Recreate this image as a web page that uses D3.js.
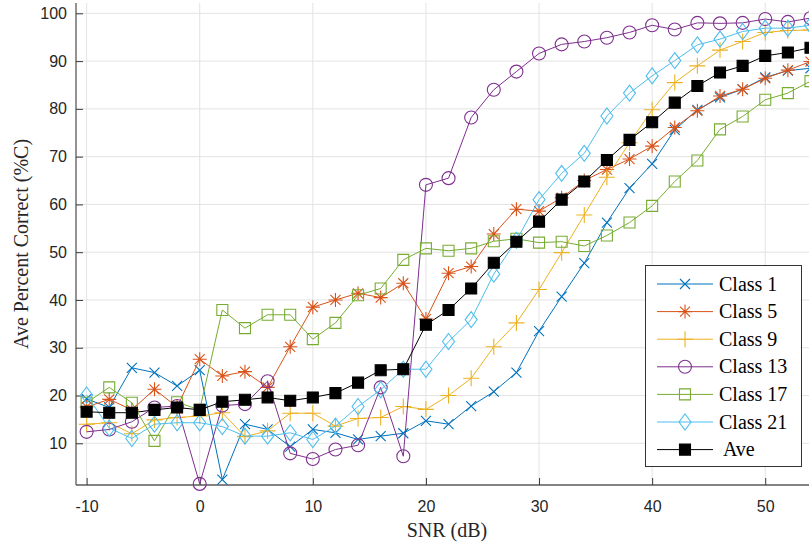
<!DOCTYPE html>
<html>
<head>
<meta charset="utf-8">
<script src="https://cdn.jsdelivr.net/npm/d3@7"></script>
<style>
  body { margin: 0; background: #fff; }
  svg { display: block; }
</style>
</head>
<body>
<svg id="chart" width="809" height="544"></svg>
<script>
// SNR values (dB)
const snr = [-10, -8, -6, -4, -2, 0, 2, 4, 6, 8, 10, 12, 14, 16, 18, 20, 22, 24, 26, 28, 30,
  32, 34, 36, 38, 40, 42, 44, 46, 48, 50, 52, 54];

const class1 = [19.3, 17.5, 25.8, 24.8, 22.0, 25.3, 2.4, 14.0, 12.9, 9.3, 12.9, 12.2, 10.8, 11.5, 12.1, 14.7, 14.0,
  17.8, 20.8, 24.8, 33.5, 40.7, 47.7, 56.2, 63.4, 68.5, 75.6, 79.8, 82.4, 84.1, 86.6, 88.0, 88.5];
const class5 = [17.6, 19.2, 17.0, 21.3, 17.6, 27.6, 24.1, 25.0, 21.7, 30.2, 38.5, 40.0, 41.4, 40.5, 43.5, 36.0, 45.6,
  47.0, 53.8, 59.0, 58.6, 61.4, 65.0, 67.3, 69.5, 72.2, 76.1, 79.6, 82.7, 84.1, 86.4, 88.1, 89.9];
const class9 = [14.0, 14.3, 12.0, 14.9, 15.4, 15.7, 16.4, 11.4, 12.6, 16.3, 16.3, 13.6, 15.2, 15.4, 17.7, 17.1, 20.0,
  23.6, 30.2, 35.2, 42.2, 49.9, 57.8, 65.7, 72.9, 79.8, 85.5, 89.0, 92.3, 94.1, 96.0, 96.4, 96.5];
const class13 = [12.4, 12.9, 14.5, 17.5, 17.8, 1.5, 17.9, 18.2, 23.0, 7.9, 6.7, 8.7, 9.6, 21.7, 7.3, 64.1, 65.5,
  78.2, 84.0, 87.8, 91.6, 93.5, 94.1, 94.9, 96.0, 97.5, 96.6, 98.0, 97.9, 98.0, 98.8, 98.2, 99.0];
const class17 = [18.5, 21.7, 18.5, 10.5, 18.6, 17.0, 37.9, 34.1, 36.9, 36.9, 31.8, 35.2, 41.0, 42.4, 48.4, 50.8, 50.3,
  50.8, 52.3, 52.8, 52.0, 52.2, 51.3, 53.5, 56.2, 59.7, 64.8, 69.2, 75.7, 78.4, 81.9, 83.3, 85.8];
const class21 = [20.1, 13.2, 11.0, 14.0, 14.3, 14.3, 13.5, 11.5, 11.5, 12.2, 10.8, 13.6, 17.7, 21.2, 25.5, 25.5, 31.3,
  35.9, 45.4, 52.5, 61.0, 66.5, 70.7, 78.5, 83.3, 86.9, 90.1, 93.4, 94.6, 96.2, 96.9, 96.9, 97.5];
const ave = [16.6, 16.4, 16.4, 17.0, 17.5, 17.0, 18.7, 19.1, 19.6, 18.9, 19.6, 20.5, 22.7, 25.3, 25.5, 34.8, 37.9,
  42.4, 47.8, 52.2, 56.4, 61.0, 64.8, 69.3, 73.5, 77.2, 81.3, 84.8, 87.6, 89.0, 91.1, 91.8, 92.8];

const seriesNames = ["Class 1", "Class 5", "Class 9", "Class 13", "Class 17", "Class 21", " Ave"];
const seriesValues = [class1, class5, class9, class13, class17, class21, ave];
const seriesColors = ["#0072BD", "#D95319", "#EDB120", "#7E2F8E", "#77AC30", "#4DBEEE", "#000000"];
const seriesMarkers = ["x", "star", "plus", "circle", "square", "diamond", "filled"];

const xTicks = [-10, 0, 10, 20, 30, 40, 50];
const yTicks = [10, 20, 30, 40, 50, 60, 70, 80, 90, 100];

const svg = d3.select("#chart");
const plot = { left: 76, right: 809, top: 3, bottom: 485 };

const x = d3.scaleLinear().domain([-11, 55]).range([75.3, 821.8]);
const y = d3.scaleLinear().domain([1.27, 102.16]).range([plot.bottom, plot.top]);

// grid
svg.append("g").selectAll("line.vg")
  .data(xTicks)
  .join("line")
  .attr("x1", d => x(d)).attr("x2", d => x(d))
  .attr("y1", plot.top).attr("y2", plot.bottom)
  .attr("stroke", "#e3e3e3").attr("stroke-width", 1);

svg.append("g").selectAll("line.hg")
  .data(yTicks)
  .join("line")
  .attr("x1", plot.left).attr("x2", plot.right)
  .attr("y1", d => y(d)).attr("y2", d => y(d))
  .attr("stroke", "#e3e3e3").attr("stroke-width", 1);

// axes (plain hyphen for negatives, like the original)
const fmt = d => String(d);
const xAxis = svg.append("g")
  .attr("transform", `translate(0,${plot.bottom})`)
  .call(d3.axisBottom(x).tickValues(xTicks).tickFormat(fmt).tickSizeInner(-7).tickSizeOuter(0).tickPadding(16));
const yAxis = svg.append("g")
  .attr("transform", `translate(${plot.left},0)`)
  .call(d3.axisLeft(y).tickValues(yTicks).tickFormat(fmt).tickSizeInner(-7).tickSizeOuter(0).tickPadding(9));

[xAxis, yAxis].forEach(g => {
  g.select(".domain").attr("stroke", "#5a5a5a").attr("stroke-width", 1.3);
  g.selectAll(".tick line").attr("stroke", "#3a3a3a");
  g.selectAll(".tick text")
    .attr("fill", "#262626")
    .style("font-family", "'Liberation Sans', Arial, sans-serif")
    .style("font-size", "16px");
});
xAxis.select(".domain").attr("d", `M${plot.left},0H${plot.right}`);
yAxis.select(".domain").attr("d", `M0,${plot.bottom}V${plot.top}`);

svg.append("text")
  .attr("x", 447).attr("y", 537)
  .attr("text-anchor", "middle")
  .style("font-family", "'Liberation Serif', 'Times New Roman', serif")
  .style("font-size", "20px")
  .attr("fill", "#262626")
  .text("SNR (dB)");

svg.append("text")
  .attr("transform", "translate(28,244) rotate(-90)")
  .attr("text-anchor", "middle")
  .style("font-family", "'Liberation Serif', 'Times New Roman', serif")
  .style("font-size", "20px")
  .attr("fill", "#262626")
  .text("Ave Percent Correct (%C)");

// marker shapes
function markerPath(type) {
  switch (type) {
    case "x": return "M-5,-5L5,5M-5,5L5,-5";
    case "star": return "M0,-7V7M-7,0H7M-5,-5L5,5M-5,5L5,-5";
    case "plus": return "M0,-8V8M-8,0H8";
    case "square": return "M-5.5,-5.5H5.5V5.5H-5.5Z";
    case "diamond": return "M0,-8L6,0L0,8L-6,0Z";
    case "filled": return "M-5.5,-5.5H5.5V5.5H-5.5Z";
  }
}

function drawMarker(g, type, color) {
  if (type === "circle") {
    g.append("circle").attr("r", 6.5)
      .attr("fill", "none").attr("stroke", color).attr("stroke-width", 1.1);
  } else {
    g.append("path").attr("d", markerPath(type))
      .attr("fill", type === "filled" ? color : "none")
      .attr("stroke", color).attr("stroke-width", 1.1);
  }
}

const line = d3.line().x((d, i) => x(snr[i])).y(d => y(d));

const series = svg.append("g");
seriesValues.forEach((vals, k) => {
  const g = series.append("g");
  g.append("path")
    .attr("d", line(vals))
    .attr("fill", "none")
    .attr("stroke", seriesColors[k])
    .attr("stroke-width", 1);
  g.selectAll("g.pt")
    .data(vals)
    .join("g")
    .attr("transform", (d, i) => `translate(${x(snr[i])},${y(d)})`)
    .each(function () { drawMarker(d3.select(this), seriesMarkers[k], seriesColors[k]); });
});

// legend
const legend = svg.append("g");
legend.append("rect")
  .attr("x", 645.5).attr("y", 265.5)
  .attr("width", 156).attr("height", 201)
  .attr("fill", "#fff").attr("stroke", "#333").attr("stroke-width", 1);

seriesNames.forEach((name, k) => {
  const ly = 284 + k * 27.6;
  const item = legend.append("g");
  item.append("line")
    .attr("x1", 657).attr("x2", 713)
    .attr("y1", ly).attr("y2", ly)
    .attr("stroke", seriesColors[k]).attr("stroke-width", 1);
  const mk = item.append("g").attr("transform", `translate(685,${ly})`);
  drawMarker(mk, seriesMarkers[k], seriesColors[k]);
  item.append("text")
    .attr("x", 719).attr("y", ly).attr("dy", "0.33em")
    .style("font-family", "'Liberation Serif', 'Times New Roman', serif")
    .style("font-size", "20px")
    .style("white-space", "pre")
    .attr("fill", "#000")
    .text(name);
});
</script>
</body>
</html>
